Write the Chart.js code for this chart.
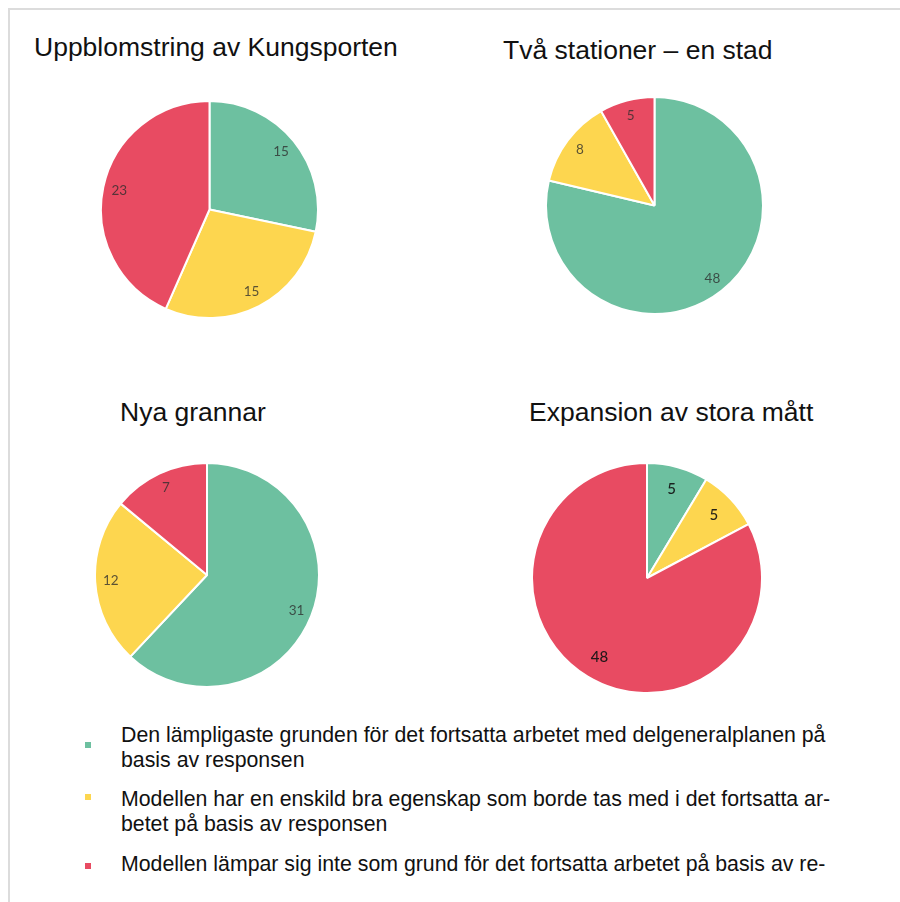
<!DOCTYPE html>
<html>
<head>
<meta charset="utf-8">
<script src="https://cdn.jsdelivr.net/npm/chart.js@4/dist/chart.umd.min.js"></script>
<style>
  html, body { margin: 0; padding: 0; background: #fff; }
  body { width: 900px; height: 902px; position: relative; overflow: hidden; font-family: "Liberation Sans", Arial, sans-serif; }
  .frame { position: absolute; left: 8px; top: 8px; width: 900px; height: 900px; border-top: 2px solid #dcdcdc; border-left: 2px solid #dcdcdc; }
  .title { position: absolute; font-size: 26.5px; line-height: 27px; color: #111; white-space: nowrap; }
  canvas { position: absolute; }
  #c0 { left: 100px; top: 100px; }
  #c1 { left: 545px; top: 96px; }
  #c2 { left: 94px; top: 462px; }
  #c3 { left: 531px; top: 462px; }
  #t0 { left: 34px; top: 34px; }
  #t1 { left: 503px; top: 37px; }
  #t2 { left: 120px; top: 399px; }
  #t3 { left: 529px; top: 399px; }
  .leg { position: absolute; left: 121px; font-size: 21.3px; line-height: 25px; color: #111; white-space: nowrap; }
  .sq { position: absolute; left: 85px; width: 6px; height: 6px; }
  #l0 { top: 723px; } #s0 { top: 742px; }
  #l1 { top: 787px; } #s1 { top: 794px; }
  #l2 { top: 852px; } #s2 { top: 863px; }
</style>
</head>
<body>
<div class="frame"></div>
<div id="titles"></div>
<canvas id="c0" width="219" height="219"></canvas>
<canvas id="c1" width="219" height="219"></canvas>
<canvas id="c2" width="226" height="226"></canvas>
<canvas id="c3" width="232" height="232"></canvas>
<div id="legend"></div>
<script>
// ---- data ----
const categories = [
  "Den lämpligaste grunden för det fortsatta arbetet med delgeneralplanen på basis av responsen",
  "Modellen har en enskild bra egenskap som borde tas med i det fortsatta arbetet på basis av responsen",
  "Modellen lämpar sig inte som grund för det fortsatta arbetet på basis av re-"
];
const legendLines = [
  ["Den lämpligaste grunden för det fortsatta arbetet med delgeneralplanen på", "basis av responsen"],
  ["Modellen har en enskild bra egenskap som borde tas med i det fortsatta ar-", "betet på basis av responsen"],
  ["Modellen lämpar sig inte som grund för det fortsatta arbetet på basis av re-"]
];
const chartTitles = ["Uppblomstring av Kungsporten", "Två stationer – en stad", "Nya grannar", "Expansion av stora mått"];
const kungsporten = [15, 15, 23];
const tvaStationer = [48, 8, 5];
const nyaGrannar = [31, 12, 7];
const expansion = [5, 5, 48];
const colors = ["#6dc0a0", "#fdd64f", "#e84b62"];

const seriesList = [kungsporten, tvaStationer, nyaGrannar, expansion];

// titles
const tBox = document.getElementById('titles');
chartTitles.forEach((t, i) => {
  const d = document.createElement('div');
  d.className = 'title'; d.id = 't' + i; d.textContent = t;
  tBox.appendChild(d);
});

// legend
const lBox = document.getElementById('legend');
legendLines.forEach((lines, i) => {
  const s = document.createElement('div');
  s.className = 'sq'; s.id = 's' + i; s.style.background = colors[i];
  lBox.appendChild(s);
  const d = document.createElement('div');
  d.className = 'leg'; d.id = 'l' + i;
  lines.forEach((ln, k) => {
    if (k) d.appendChild(document.createElement('br'));
    d.appendChild(document.createTextNode(ln));
  });
  lBox.appendChild(d);
});

// in-slice value labels
const sliceLabels = {
  id: 'sliceLabels',
  afterDatasetsDraw(chart, args, opts) {
    const ctx = chart.ctx;
    const meta = chart.getDatasetMeta(0);
    const vals = chart.data.datasets[0].data;
    ctx.save();
    ctx.font = opts.font;
    ctx.fillStyle = opts.color;
    ctx.textAlign = 'center';
    ctx.textBaseline = 'middle';
    meta.data.forEach((arc, i) => {
      const p = arc.getProps(['x', 'y', 'startAngle', 'endAngle', 'outerRadius'], true);
      const mid = (p.startAngle + p.endAngle) / 2;
      const r = p.outerRadius * opts.factor;
      ctx.fillText(String(vals[i]), p.x + Math.cos(mid) * r, p.y + Math.sin(mid) * r);
    });
    ctx.restore();
  }
};

const labelStyles = [
  { font: '13.5px Lato', color: 'rgba(45,45,45,0.78)', factor: 0.85 },
  { font: '13.5px Lato', color: 'rgba(45,45,45,0.78)', factor: 0.86 },
  { font: '13.5px Lato', color: 'rgba(45,45,45,0.78)', factor: 0.86 },
  { font: '500 15px Lato', color: 'rgba(20,20,20,0.92)', factor: 0.80 }
];

seriesList.forEach((vals, i) => {
  new Chart(document.getElementById('c' + i), {
    type: 'pie',
    data: {
      labels: categories,
      datasets: [{
        data: vals,
        backgroundColor: colors,
        borderColor: '#ffffff',
        borderWidth: 2
      }]
    },
    options: {
      responsive: false,
      animation: false,
      events: [],
      layout: { padding: 0 },
      plugins: {
        legend: { display: false },
        title: { display: false },
        tooltip: { enabled: false },
        sliceLabels: labelStyles[i]
      }
    },
    plugins: [sliceLabels]
  });
});
</script>
</body>
</html>
